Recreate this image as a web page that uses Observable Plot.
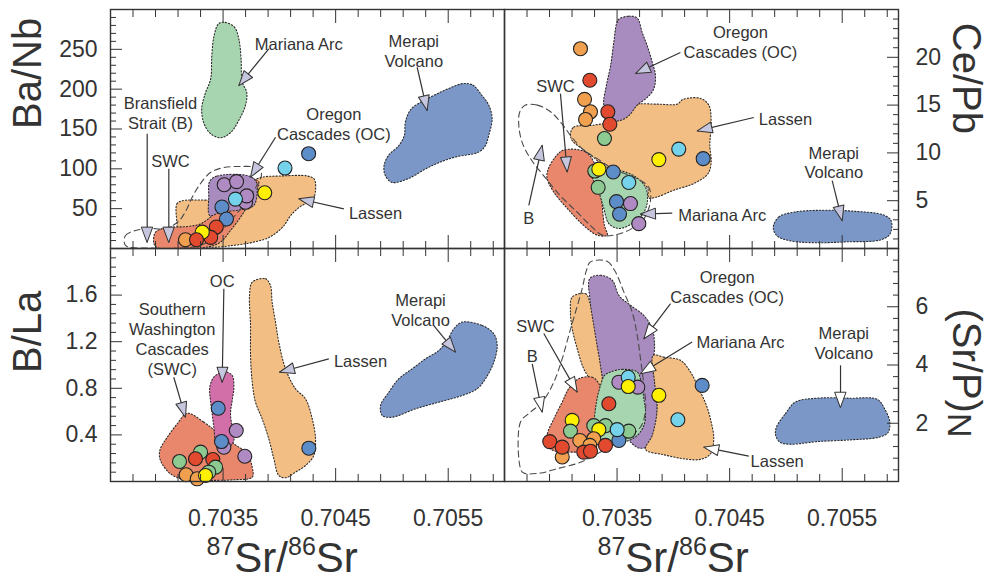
<!DOCTYPE html>
<html><head><meta charset="utf-8">
<script src="https://cdn.jsdelivr.net/npm/d3@7"></script>
<script src="https://cdn.jsdelivr.net/npm/@observablehq/plot@0.6"></script>
<style>
body{margin:0;background:#fff;}
#chart{position:relative;width:988px;height:582px;overflow:hidden;background:#fff;}
#chart svg{position:absolute;left:0;top:0;}
</style></head><body><div id="chart"></div>
<script>
// ---------- shared axis data ----------
const xDomain = [0.7025, 0.7060];
const xMajorTicks = [0.7035, 0.7045, 0.7055];
const xMinorTicks = [0.7027,0.7029,0.7031,0.7033,0.7037,0.7039,0.7041,0.7043,0.7047,0.7049,0.7051,0.7053,0.7057,0.7059];
const xTitleParts = [["87","sup"],["Sr/","main"],["86","sup"],["Sr","main"]];

// ---------- Ba/Nb panel (top left) ----------
const baNbDomain = [0, 300];
const baNbTicks = [50,100,150,200,250];
const baNbMinor = [10,20,30,40,60,70,80,90,110,120,130,140,160,170,180,190,210,220,230,240,260,270,280,290];
const baNbLassen = [[0.70309,33],[0.70309,56],[0.70314,60],[0.70339,61],[0.70348,63],[0.70370,80],[0.70383,89],[0.70401,91],[0.70425,91],[0.70431,87],[0.70432,71],[0.70429,60],[0.70420,54],[0.70411,43],[0.70403,27],[0.70391,14],[0.70377,8],[0.70360,4],[0.70336,2],[0.70318,10],[0.70310,22]];
const baNbSWC = [[0.702885,6.6],[0.70290,20.5],[0.702989,26],[0.703181,27.6],[0.70330,31],[0.703403,41.4],[0.703492,56],[0.703581,72.8],[0.703655,83],[0.703729,88.7],[0.703818,83],[0.703788,70.6],[0.703729,56],[0.703655,39.3],[0.703566,22.6],[0.703477,8],[0.703359,1.7],[0.703122,0.5],[0.702915,1]];
const baNbOC = [[0.703382,84.5],[0.703448,91],[0.703714,91.6],[0.703788,85.3],[0.703803,72.8],[0.703773,54],[0.703655,48.6],[0.703477,45.5],[0.703382,41.4],[0.703373,64.4]];
const baNbMariana = [[0.70351,284],[0.70360,278],[0.70364,263],[0.70366,238],[0.70367,209],[0.70371,196],[0.70370,180],[0.70364,161],[0.70357,146],[0.70348,139],[0.70339,144],[0.70333,157],[0.70331,175],[0.70334,194],[0.70339,213],[0.70340,242],[0.70342,267],[0.70346,282]];
const baNbMerapi = [[0.70563,207],[0.70572,205],[0.70580,192],[0.70586,180],[0.70589,163],[0.70586,142],[0.70583,129],[0.70577,121],[0.70557,115],[0.70542,108],[0.70530,100],[0.70515,88],[0.70500,83],[0.70494,92],[0.70493,104],[0.70497,117],[0.70506,129],[0.70511,142],[0.70512,159],[0.70517,175],[0.70526,184],[0.70537,192],[0.70549,200]];
const baNbB = [[0.702633,3.8],[0.702633,16.3],[0.702722,22.6],[0.702855,25],[0.702989,25],[0.703104,34],[0.703166,46.4],[0.703228,65],[0.70330,81.6],[0.703388,95.4],[0.703504,101.6],[0.703655,103],[0.703788,101.6],[0.703841,94],[0.703744,66.5],[0.703566,35],[0.703388,10],[0.70321,1.3],[0.702855,0.5]];
const baNbPoints = [["blue",0.70426,119],["cyan",0.70405,101],["yellow",0.70387,70],["purple",0.70351,80],["purple",0.70362,84],["purple",0.70370,58],["purple",0.70371,66],["cyan",0.70361,62],["blue",0.70349,52],["blue",0.70353,37],["red",0.70344,27],["red",0.70339,14],["yellow",0.703315,20.5],["orange",0.703166,11],["red",0.703264,11]];
const baNbArrows = [[0.703906,250.6,0.70364,204.4],[0.705224,227.5,0.705313,173.2],[0.702826,143.9,0.702826,8],[0.703018,100,0.703018,8],[0.703966,139.7,0.703744,89.5],[0.704573,49.8,0.704173,62.4]];
const baNbLabels = [[0.704173,256.8,"Mariana Arc"],[0.705194,248.4,"Merapi\nVolcano"],[0.702944,171,"Bransfield\nStrait (B)"],[0.703033,110.4,"SWC"],[0.704484,156.5,"Oregon\nCascades (OC)"],[0.704854,45.5,"Lassen"]];

// ---------- Ce/Pb panel (top right) ----------
const cePbDomain = [0, 25];
const cePbTicks = [5,10,15,20];
const cePbMinor = [1,2,3,4,6,7,8,9,11,12,13,14,16,17,18,19,21,22,23,24];
const cePbOC = [[0.703516,24.0],[0.703605,24.3],[0.703679,24.1],[0.703723,22.6],[0.703768,21.2],[0.703812,19.5],[0.703841,18.1],[0.703826,16.7],[0.703768,15.8],[0.703679,15.0],[0.703605,13.9],[0.70353,13.4],[0.703442,13.4],[0.703382,15.0],[0.703406,17.1],[0.703442,19.1],[0.703471,21.6],[0.703495,23.5]];
const cePbLassen = [[0.703086,12.0],[0.703116,12.7],[0.703293,12.9],[0.703471,13.4],[0.703649,15.0],[0.703856,15.1],[0.704034,15.1],[0.704087,15.6],[0.704241,15.7],[0.704315,15.0],[0.704336,13.2],[0.704324,10.8],[0.704336,9.0],[0.704306,7.8],[0.704182,6.8],[0.704004,6.1],[0.703856,5.4],[0.703782,5.3],[0.703768,6.4],[0.703649,6.8],[0.703471,7.6],[0.703324,9.2],[0.703204,10.3],[0.703101,11.3]];
const cePbSWC = [[0.703027,10.3],[0.70322,10.1],[0.703308,8.7],[0.703353,6.9],[0.703368,4.5],[0.703388,2.4],[0.703412,1.4],[0.703323,1.4],[0.703204,2.4],[0.703057,4.2],[0.702938,5.9],[0.702879,7.3],[0.702885,8.2],[0.702953,9.6]];
const cePbMariana = [[0.703279,8.7],[0.703442,8.4],[0.703649,7.6],[0.703753,6.4],[0.703768,4.8],[0.703723,3.5],[0.703634,2.6],[0.703515,2.1],[0.703427,2.6],[0.703382,4.2],[0.703338,5.9],[0.703279,7.5]];
const cePbMerapi = [[0.704887,2.2],[0.704937,3.3],[0.70507,3.8],[0.705307,4.0],[0.705603,3.9],[0.705869,3.5],[0.705935,2.9],[0.705923,1.5],[0.70584,0.9],[0.705544,0.7],[0.705278,0.6],[0.705041,0.8],[0.704923,1.3]];
const cePbB = [[0.702687,15.0],[0.70279,15.0],[0.702909,14.3],[0.703013,13.0],[0.703101,11.6],[0.703204,10.3],[0.703323,9.4],[0.703471,8.3],[0.703679,7.3],[0.703782,6.4],[0.703797,5.0],[0.703737,3.1],[0.703619,2.0],[0.703471,1.4],[0.703368,1.4],[0.703264,2.4],[0.703146,3.8],[0.702997,5.5],[0.702849,7.6],[0.702731,9.4],[0.702657,11.1],[0.702627,12.9],[0.702636,14.3]];
const cePbPoints = [["orange",0.703175,20.9],["red",0.703258,17.6],["orange",0.703211,15.6],["orange",0.703264,14.3],["orange",0.70322,13.5],["red",0.703418,14.3],["red",0.703436,13.0],["green",0.703388,11.5],["yellow",0.703871,9.3],["cyan",0.704048,10.4],["blue",0.704265,9.4],["green",0.703302,8.1],["yellow",0.703338,8.3],["blue",0.703466,8.0],["cyan",0.703604,6.9],["green",0.703332,6.4],["blue",0.703495,4.9],["purple",0.703619,4.7],["blue",0.703522,3.6],["purple",0.703693,2.6]];
const cePbArrows = [[0.704063,20.5,0.703664,18.3],[0.702997,16.2,0.703057,8.0],[0.702716,4.5,0.702835,10.8],[0.704715,13.7,0.704212,12.3],[0.70399,3.7,0.703708,3.6],[0.705411,7.1,0.7055,2.9]];
const cePbLabels = [[0.704596,21.6,"Oregon\nCascades (OC)"],[0.702953,17.05,"SWC"],[0.702716,3.27,"B"],[0.704996,13.57,"Lassen"],[0.704434,3.52,"Mariana Arc"],[0.705425,9.03,"Merapi\nVolcano"]];

// ---------- B/La panel (bottom left) ----------
const bLaDomain = [0, 2];
const bLaTicks = [0.4,0.8,1.2,1.6];
const bLaMinor = [0.08,0.16,0.24,0.32,0.48,0.56,0.64,0.72,0.88,0.96,1.04,1.12,1.28,1.36,1.44,1.52,1.68,1.76,1.84,1.92];
const bLaSWC = [[0.703181,0.586],[0.703329,0.509],[0.703448,0.423],[0.703596,0.323],[0.703714,0.238],[0.703759,0.123],[0.703759,0.037],[0.703596,0.015],[0.703359,0.009],[0.703181,0.009],[0.703033,0.066],[0.702944,0.18],[0.702938,0.266],[0.703004,0.38],[0.703093,0.495]];
const bLaOC = [[0.703418,0.895],[0.703507,0.944],[0.703581,0.91],[0.703596,0.809],[0.703581,0.695],[0.703566,0.581],[0.703581,0.466],[0.703596,0.352],[0.703551,0.294],[0.703477,0.281],[0.703433,0.352],[0.703418,0.466],[0.703403,0.581],[0.703388,0.695],[0.703382,0.809]];
const bLaLassen = [[0.703759,1.711],[0.703877,1.74],[0.703921,1.682],[0.703936,1.539],[0.703966,1.368],[0.703995,1.196],[0.704055,0.967],[0.704143,0.796],[0.704232,0.71],[0.704292,0.538],[0.704321,0.367],[0.704306,0.223],[0.704232,0.137],[0.704143,0.08],[0.704055,0.032],[0.703995,0.052],[0.703951,0.195],[0.703906,0.367],[0.703847,0.538],[0.703788,0.681],[0.703759,0.852],[0.703744,1.082],[0.703744,1.339],[0.703735,1.597]];
const bLaMerapi = [[0.705624,1.368],[0.705802,1.339],[0.705905,1.268],[0.705935,1.167],[0.705905,1.024],[0.705831,0.882],[0.705757,0.796],[0.705624,0.738],[0.705416,0.681],[0.705209,0.624],[0.705002,0.552],[0.704914,0.567],[0.704899,0.652],[0.704973,0.767],[0.705061,0.882],[0.70518,0.967],[0.705298,1.053],[0.705416,1.124],[0.705491,1.21],[0.70555,1.311]];
const bLaPoints = [["blue",0.703457,0.629],["purple",0.703617,0.438],["purple",0.703507,0.294],["blue",0.703486,0.343],["purple",0.703693,0.217],["blue",0.704262,0.286],["green",0.703113,0.172],["green",0.7033,0.252],["red",0.703255,0.195],["red",0.703409,0.189],["green",0.703433,0.123],["green",0.703373,0.08],["orange",0.703172,0.058],["orange",0.70327,0.023],["yellow",0.703344,0.052]];
const bLaArrows = [[0.703507,1.654,0.703492,0.852],[0.703062,0.895,0.703166,0.552],[0.704439,1.053,0.704001,0.938],[0.705372,1.339,0.705565,1.11]];
const bLaLabels = [[0.703492,1.725,"OC"],[0.703048,1.227,"Southern\nWashington\nCascades\n(SWC)"],[0.704721,1.039,"Lassen"],[0.705254,1.476,"Merapi\nVolcano"]];

// ---------- (Sr/P)N panel (bottom right) ----------
const srPDomain = [0, 8];
const srPTicks = [2,4,6];
const srPMinor = [0.4,0.8,1.2,1.6,2.4,2.8,3.2,3.6,4.4,4.8,5.2,5.6,6.4,6.8,7.2,7.6];
const srPLassenLobe = [[0.703101,6.33],[0.70322,6.45],[0.703258,6.16],[0.7033,5.36],[0.703347,4.44],[0.703368,3.53],[0.703353,3.07],[0.703279,3.41],[0.703204,3.87],[0.703146,4.56],[0.703101,5.25],[0.703086,5.82]];
const srPOC = [[0.703258,6.97],[0.703353,7.08],[0.703457,6.91],[0.703516,6.39],[0.703619,6.05],[0.703738,5.7],[0.703812,5.25],[0.703833,4.67],[0.703821,3.99],[0.703841,3.3],[0.703856,2.61],[0.70385,1.81],[0.703812,1.3],[0.703708,1.14],[0.703634,1.3],[0.70356,1.69],[0.703471,2.61],[0.703382,3.41],[0.703338,4.33],[0.703293,5.36],[0.703258,6.28]];
const srPLassen = [[0.703821,4.33],[0.703915,4.27],[0.704063,4.16],[0.704152,3.76],[0.704226,3.19],[0.704294,2.61],[0.704336,2.04],[0.704359,1.47],[0.70433,0.95],[0.704241,0.76],[0.704093,0.78],[0.703915,0.92],[0.703753,1.1],[0.703812,1.58],[0.703856,2.5],[0.703833,3.41]];
const srPSWC = [[0.70316,3.53],[0.703279,3.58],[0.703338,3.36],[0.703368,2.84],[0.703353,2.15],[0.703323,1.58],[0.703264,1.12],[0.703057,1.01],[0.702909,1.12],[0.702879,1.58],[0.702938,2.15],[0.703013,2.73],[0.703071,3.19]];
const srPMariana = [[0.703442,3.76],[0.703546,3.85],[0.703679,3.76],[0.703714,3.41],[0.703738,2.84],[0.703753,2.38],[0.703738,1.92],[0.703679,1.58],[0.70356,1.35],[0.703412,1.3],[0.703338,1.47],[0.7033,1.92],[0.703317,2.73],[0.703353,3.3],[0.703388,3.64]];
const srPMerapi = [[0.704916,1.87],[0.704996,2.33],[0.705085,2.73],[0.705278,2.86],[0.705574,2.86],[0.705811,2.82],[0.705876,2.5],[0.705923,2.04],[0.705905,1.67],[0.705825,1.52],[0.705574,1.43],[0.705278,1.37],[0.705041,1.28],[0.704946,1.35],[0.704908,1.6]];
const srPB = [[0.703264,7.54],[0.703412,7.56],[0.703486,7.19],[0.70356,6.51],[0.703634,5.82],[0.703679,5.02],[0.703708,4.22],[0.703738,3.3],[0.703753,2.5],[0.703708,1.87],[0.70353,1.35],[0.703353,1.01],[0.703175,0.66],[0.702968,0.44],[0.70282,0.29],[0.702671,0.29],[0.702642,0.44],[0.702642,2.04],[0.702731,2.38],[0.702835,2.73],[0.702938,3.41],[0.703013,4.22],[0.703071,5.02],[0.703131,5.82],[0.70319,6.62],[0.703228,7.25]];
const srPPoints = [["blue",0.704256,3.30],["purple",0.703516,3.41],["purple",0.703684,3.24],["cyan",0.703599,3.58],["yellow",0.703599,3.26],["yellow",0.703871,2.96],["red",0.703427,2.67],["cyan",0.70404,2.12],["yellow",0.703101,2.10],["green",0.703086,1.73],["blue",0.703516,1.41],["green",0.703293,1.92],["green",0.703397,1.92],["yellow",0.703338,1.78],["green",0.703604,1.73],["cyan",0.703501,1.78],["orange",0.703169,1.41],["orange",0.703293,1.47],["orange",0.703258,1.24],["orange",0.703013,0.84],["red",0.702902,1.37],["red",0.703013,1.18],["red",0.703204,1.01],["red",0.703264,1.04],["red",0.703397,1.24]];
const srPArrows = [[0.703975,6.11,0.703738,4.90],[0.704167,4.79,0.703708,3.70],[0.702849,5.08,0.703146,3.07],[0.702746,4.04,0.702835,2.38],[0.70467,0.87,0.70427,1.18],[0.705485,3.99,0.705485,2.55]];
const srPLabels = [[0.704478,6.68,"Oregon\nCascades (OC)"],[0.704596,4.79,"Mariana Arc"],[0.702775,5.36,"SWC"],[0.702746,4.33,"B"],[0.704922,0.72,"Lassen"],[0.705514,4.76,"Merapi\nVolcano"]];

// ---------- styles ----------
const FONT = "'Liberation Sans', Arial, Helvetica, sans-serif";
const INK = "#333";
const REGION = {mariana:"#a7d5b0", merapi:"#7b97c8", oc:"#a98cbf", lassen:"#f3be83", swc:"#e8876c", ocPink:"#d26ea8"};
const DOT = {orange:"#f0a04f", red:"#e24a2f", green:"#8dca91", blue:"#5d8dc8", cyan:"#74d3eb", yellow:"#fff000", purple:"#b08bc3"};
const W = 988, H = 582;
const LEFT = 110, MIDX = 504, RIGHT = 898, TOP = 9, MIDY = 248, BOTTOM = 481;

const ctx = document.createElement("canvas").getContext("2d");
function textWidth(t, size) { ctx.font = `${size}px "Liberation Sans"`; return ctx.measureText(t).width; }

let headShape = {draw(c, l, r) { c.moveTo(0, 0); c.lineTo(-r, l); c.lineTo(r, l); c.closePath(); }};
try { Plot.vector([], {shape: headShape}); } catch (e) { headShape = "spike"; }

function panel(cfg) {
  const {xr, yr, yDomain, polys, dashed, points, arrows, labels, headFill, side, yTicks, yMinor, yFmt, xLabels} = cfg;
  const sx = Plot.scale({x: {domain: xDomain, range: xr}});
  const sy = Plot.scale({y: {domain: yDomain, range: yr}});
  const marks = [];
  for (const p of polys) marks.push(Plot.line(p.data, {x: d => d[0], y: d => d[1], curve: "catmull-rom-closed", fill: p.fill, stroke: "#2a2a2a", strokeWidth: 1.1, strokeDasharray: "1.2,2", clip: true}));
  if (dashed) marks.push(Plot.line(dashed, {x: d => d[0], y: d => d[1], curve: "catmull-rom-closed", fill: "none", stroke: "#4a4a4a", strokeWidth: 1.1, strokeDasharray: "6,4", clip: true}));
  marks.push(Plot.dot(points, {x: d => d[1], y: d => d[2], r: 7, fill: d => DOT[d[0]], stroke: "#222", strokeWidth: 1.1}));
  marks.push(Plot.link(arrows, {x1: d => d[0], y1: d => d[1], x2: d => d[2], y2: d => d[3], stroke: INK, strokeWidth: 1.2}));
  marks.push(Plot.vector(arrows, {x: d => d[2], y: d => d[3], anchor: "start", length: 15, r: 5.5, shape: headShape, fill: headFill, stroke: INK, strokeWidth: 1,
    rotate: d => Math.atan2(sx.apply(d[2]) - sx.apply(d[0]), -(sy.apply(d[3]) - sy.apply(d[1]))) * 180 / Math.PI}));
  marks.push(Plot.text(labels, {x: d => d[0], y: d => d[1], text: d => d[2], fontSize: 16.5, lineHeight: 1.2, fill: INK, fontFamily: FONT}));
  marks.push(Plot.frame({stroke: "#333", strokeWidth: 1.4}));
  for (const anchor of ["top", "bottom"]) {
    marks.push(Plot.axisX({ticks: xMinorTicks, anchor, tickSize: -7, tickFormat: () => "", label: null, color: INK}));
    marks.push(Plot.axisX({ticks: xMajorTicks, anchor, tickSize: -13, tickFormat: () => "", label: null, color: INK}));
  }
  if (xLabels) marks.push(Plot.axisX({ticks: xMajorTicks, anchor: "bottom", tickSize: 0, tickPadding: 28, tickFormat: d => d.toFixed(4), label: null, color: INK, fontSize: 23, fontFamily: FONT}));
  marks.push(Plot.axisY({ticks: yMinor, anchor: side, tickSize: -6, tickFormat: () => "", label: null, color: INK}));
  marks.push(Plot.axisY({ticks: yTicks, anchor: side, tickSize: -12, tickFormat: () => "", label: null, color: INK}));
  marks.push(Plot.axisY({ticks: yTicks, anchor: side, tickSize: 0, tickPadding: side === "left" ? 13 : 17, tickFormat: yFmt, label: null, color: INK, fontSize: 23, fontFamily: FONT}));
  marks.push(...cfg.extra);
  return Plot.plot({
    width: W, height: H,
    marginLeft: xr[0], marginRight: W - xr[1], marginTop: yr[1], marginBottom: H - yr[0],
    x: {domain: xDomain}, y: {domain: yDomain},
    color: {type: "identity"},
    style: {background: "transparent", overflow: "visible", fontFamily: FONT},
    marks
  });
}

function xTitle(startPx, frameLeft) {
  const out = [];
  let x = startPx - frameLeft;
  for (const [t, kind] of xTitleParts) {
    const fs = kind === "sup" ? 25 : 42;
    out.push(Plot.text([t], {frameAnchor: "bottom-left", text: d => d, fontSize: fs, textAnchor: "start", lineAnchor: "bottom", dx: x, dy: 90 + (kind === "sup" ? -17 : 0), fill: INK, fontFamily: FONT}));
    x += textWidth(t, fs);
  }
  return out;
}

const intFmt = d => String(d);
const headLav = "#c6c7de";

const p1 = panel({xr: [LEFT, MIDX], yr: [MIDY, TOP], yDomain: baNbDomain, side: "left", yTicks: baNbTicks, yMinor: baNbMinor, yFmt: intFmt, xLabels: false, headFill: headLav,
  polys: [{data: baNbLassen, fill: REGION.lassen}, {data: baNbSWC, fill: REGION.swc}, {data: baNbOC, fill: REGION.oc}, {data: baNbMariana, fill: REGION.mariana}, {data: baNbMerapi, fill: REGION.merapi}],
  dashed: baNbB, points: baNbPoints, arrows: baNbArrows, labels: baNbLabels,
  extra: [Plot.text(["Ba/Nb"], {frameAnchor: "left", rotate: -90, fontSize: 40, dx: -82, fill: INK, fontFamily: FONT})]});

const p2 = panel({xr: [MIDX, RIGHT], yr: [MIDY, TOP], yDomain: cePbDomain, side: "right", yTicks: cePbTicks, yMinor: cePbMinor, yFmt: intFmt, xLabels: false, headFill: headLav,
  polys: [{data: cePbLassen, fill: REGION.lassen}, {data: cePbOC, fill: REGION.oc}, {data: cePbSWC, fill: REGION.swc}, {data: cePbMariana, fill: REGION.mariana}, {data: cePbMerapi, fill: REGION.merapi}],
  dashed: cePbB, points: cePbPoints, arrows: cePbArrows, labels: cePbLabels,
  extra: [Plot.text(["Ce/Pb"], {frameAnchor: "right", rotate: 90, fontSize: 40, dx: 67, dy: 5, fill: INK, fontFamily: FONT})]});

const p3 = panel({xr: [LEFT, MIDX], yr: [BOTTOM, MIDY], yDomain: bLaDomain, side: "left", yTicks: bLaTicks, yMinor: bLaMinor, yFmt: d => d.toFixed(1), xLabels: true, headFill: headLav,
  polys: [{data: bLaSWC, fill: REGION.swc}, {data: bLaOC, fill: REGION.ocPink}, {data: bLaLassen, fill: REGION.lassen}, {data: bLaMerapi, fill: REGION.merapi}],
  dashed: null, points: bLaPoints, arrows: bLaArrows, labels: bLaLabels,
  extra: [Plot.text(["B/La"], {frameAnchor: "left", rotate: -90, fontSize: 40, dx: -82, dy: 8, fill: INK, fontFamily: FONT}), ...xTitle(206, LEFT)]});

const srLabelW = textWidth("(Sr/P)", 40) + textWidth("N", 34);
const p4 = panel({xr: [MIDX, RIGHT], yr: [BOTTOM, MIDY], yDomain: srPDomain, side: "right", yTicks: srPTicks, yMinor: srPMinor, yFmt: intFmt, xLabels: true, headFill: "#ffffff",
  polys: [{data: srPLassenLobe, fill: REGION.lassen}, {data: srPOC, fill: REGION.oc}, {data: srPLassen, fill: REGION.lassen}, {data: srPSWC, fill: REGION.swc}, {data: srPMariana, fill: REGION.mariana}, {data: srPMerapi, fill: REGION.merapi}],
  dashed: srPB, points: srPPoints, arrows: srPArrows, labels: srPLabels,
  extra: [
    Plot.text(["(Sr/P)"], {frameAnchor: "right", rotate: 90, fontSize: 40, textAnchor: "start", dx: 67, dy: 8 - srLabelW / 2, fill: INK, fontFamily: FONT}),
    Plot.text(["N"], {frameAnchor: "right", rotate: 90, fontSize: 34, textAnchor: "start", dx: 60, dy: 8 - srLabelW / 2 + textWidth("(Sr/P)", 40), fill: INK, fontFamily: FONT}),
    ...xTitle(597, MIDX)
  ]});

const chart = document.getElementById("chart");
for (const p of [p1, p2, p3, p4]) chart.appendChild(p);
</script></body></html>
